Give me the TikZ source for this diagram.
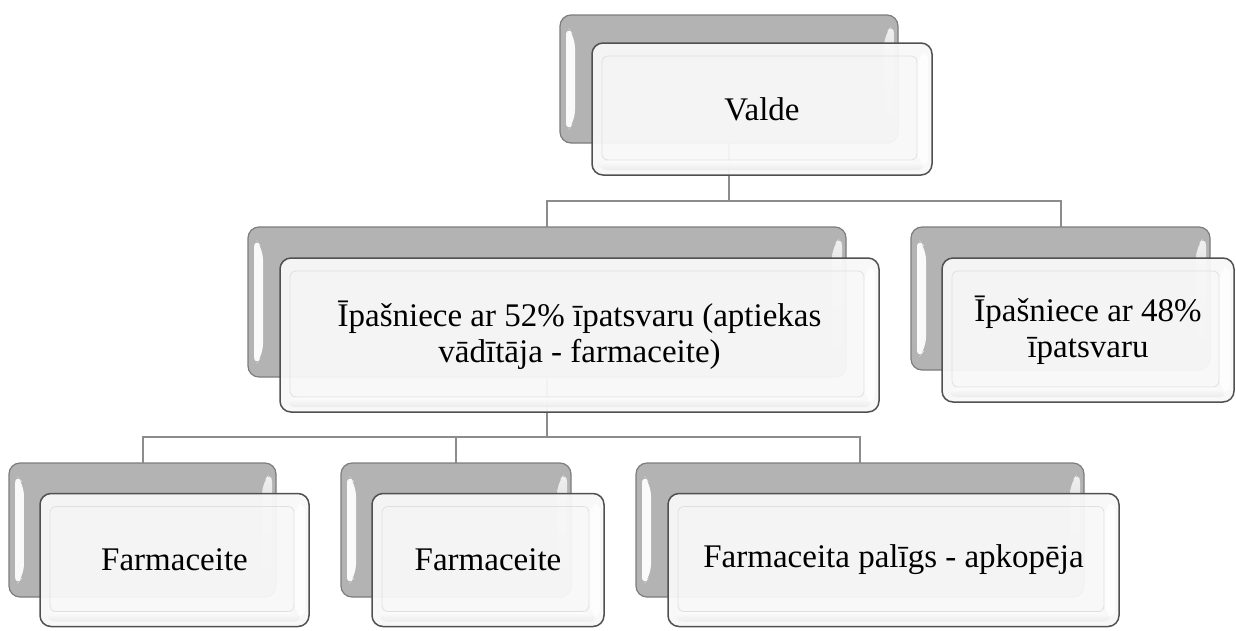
\documentclass[tikz,border=0pt]{standalone}
\usepackage{fontspec}
\setmainfont{Liberation Serif}
\usetikzlibrary{calc}
\definecolor{backgray}{HTML}{B3B3B3}
\definecolor{backedge}{HTML}{7C7C7C}
\definecolor{frontfill}{HTML}{F8F8F8}
\definecolor{frontedge}{HTML}{505050}
\definecolor{linegray}{HTML}{8C8C8C}
\definecolor{bevelgray}{HTML}{E0E0E0}
\tikzset{
  backbox/.style={draw=backedge, line width=1.2pt, fill=backgray, rounded corners=11pt,
    inner sep=0pt, outer sep=0pt,
    path picture={
      \shade[left color=white, right color=backgray!60!white, opacity=.95]
        ($(path picture bounding box.north west)+(6,10)$) --
        ($(path picture bounding box.north west)+(15,22)$) --
        ($(path picture bounding box.south west)+(15,-22)$) --
        ($(path picture bounding box.south west)+(6,-10)$) -- cycle;
      \shade[top color=white, bottom color=backgray, opacity=.85]
        ($(path picture bounding box.north east)+(-4,8)$) --
        ($(path picture bounding box.north east)+(-14,20)$) --
        ($(path picture bounding box.south east)+(-14,-22)$) --
        ($(path picture bounding box.south east)+(-4,-10)$) -- cycle;
    }},
  frontbox/.style={draw=frontedge, line width=1.5pt, fill=frontfill, fill opacity=.95,
    text opacity=1, rounded corners=11pt, inner sep=0pt, outer sep=0pt,
    align=center, font=\fontsize{33}{36}\selectfont,
    path picture={
      \shade[left color=bevelgray, right color=white, opacity=.9]
        ($(path picture bounding box.north east)+(-15,14)$) --
        ($(path picture bounding box.north east)+(-4,6)$) --
        ($(path picture bounding box.south east)+(-4,-6)$) --
        ($(path picture bounding box.south east)+(-15,-15)$) -- cycle;
      \shade[top color=white, bottom color=bevelgray!70, opacity=.8]
        ($(path picture bounding box.south west)+(10,-15)$) --
        ($(path picture bounding box.south east)+(-15,-15)$) --
        ($(path picture bounding box.south east)+(-4,-5)$) --
        ($(path picture bounding box.south west)+(4,-5)$) -- cycle;
      \draw[bevelgray, line width=.8pt, rounded corners=6pt]
        ($(path picture bounding box.north west)+(10,13)$) rectangle
        ($(path picture bounding box.south east)+(-15,-15)$);
    }},
  conn/.style={draw=linegray, line width=2pt}
}
\begin{document}
\begin{tikzpicture}[x=1pt, y=-1pt]
\useasboundingbox (0,0) rectangle (1236,630);
\coordinate (bus1) at (0,201);
\coordinate (bus2) at (0,437);

% back boxes
\node[backbox, minimum width=338pt, minimum height=128pt] (vb) at (729,79) {};
\node[backbox, minimum width=598pt, minimum height=150pt] (mb) at (547,302) {};
\node[backbox, minimum width=299pt, minimum height=143pt] (rb) at (1060.5,298.5) {};
\node[backbox, minimum width=267pt, minimum height=134pt] (b1b) at (142.5,530) {};
\node[backbox, minimum width=230pt, minimum height=134pt] (b2b) at (456,530) {};
\node[backbox, minimum width=448pt, minimum height=134pt] (b3b) at (860,530) {};

% connectors
\draw[conn] (vb.south) -- (vb.south |- bus1) -| (mb.north);
\draw[conn] (vb.south |- bus1) -| (rb.north);
\draw[conn] (mb.south) -- (mb.south |- bus2) -| (b1b.north);
\draw[conn] (mb.south |- bus2) -| (b2b.north);
\draw[conn] (mb.south |- bus2) -| (b3b.north);

% front boxes
\node[frontbox, minimum width=340pt, minimum height=132pt] (vf) at (762,109) {Valde};
\node[frontbox, minimum width=599pt, minimum height=154pt] (mf) at (579.5,335)
  {Īpašniece ar 52\% īpatsvaru (aptiekas\\vādītāja - farmaceite)};
\node[frontbox, minimum width=292pt, minimum height=144pt] (rf) at (1088,330)
  {Īpašniece ar 48\%\\īpatsvaru};
\node[frontbox, minimum width=269pt, minimum height=133pt] (b1f) at (174.5,560) {Farmaceite};
\node[frontbox, minimum width=232pt, minimum height=133pt] (b2f) at (488,560) {Farmaceite};
\node[frontbox, minimum width=451pt, minimum height=133pt] (b3f) at (893.5,560) {Farmaceita palīgs - apkopēja};
\end{tikzpicture}
\end{document}
